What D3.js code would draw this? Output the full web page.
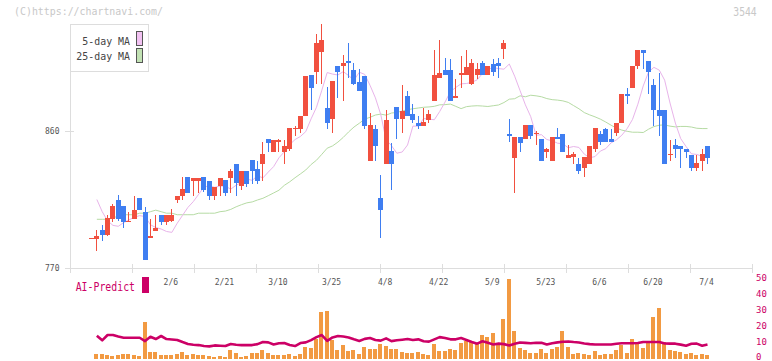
<!DOCTYPE html>
<html><head><meta charset="utf-8">
<script src="https://cdn.jsdelivr.net/npm/d3@7"></script>
<style>
body{margin:0;background:#fff;}
svg text{font-family:"DejaVu Sans Mono",monospace;}
</style></head>
<body><svg id="c" width="772" height="361"></svg>
<script>
// ---- data ----
const openP = [790,789,795,792,802,815,811,800,802,816, 807,790,794,805,800,801,815,817,830,827,
 827,830,827,817,824,828,829,838,824,834, 841,835,838,855,846,853,846,848,862,861,
 870,897,899,912,875,868,903,903,906,900, 892,896,840,861,816,838,847,876,868,883,
 871,865,863,867,880,895,900,900,882,897, 897,891,897,905,897,904,905,914,858,842,
 856,855,864,859,855,846,840,856,858,842, 843,838,836,838,848,858,861,855,859,865,
 884,888,903,913,906,890,874,874,845,851, 850,848,844,836,840,850];
const highP = [790,795,798,805,812,818,811,807,817,816, 810,802,805,805,805,809,817,830,830,829,
 829,830,827,823,829,828,835,838,834,834, 841,840,853,855,854,855,854,862,863,870,
 896,897,924,930,889,893,903,910,918,905, 901,896,872,864,831,874,852,876,890,886,
 878,870,875,874,913,920,908,907,894,909, 913,907,905,906,903,907,908,920,868,856,
 856,864,864,860,855,849,856,862,858,851, 846,842,843,850,862,860,862,861,865,884,
 888,903,913,913,906,894,898,874,854,855, 850,848,844,844,848,850];
const lowP = [790,781,788,791,800,801,796,800,802,808, 775,790,794,798,798,800,813,815,819,817,
 819,820,815,815,817,817,819,817,821,823, 825,825,827,846,846,846,838,847,857,859,
 870,874,891,891,861,859,882,880,895,890, 886,861,840,840,790,838,821,855,859,870,
 865,861,863,865,880,895,897,880,882,888, 897,890,894,897,897,896,895,907,853,819,
 846,855,855,851,840,842,840,855,846,842, 838,832,830,838,846,851,853,853,857,865,
 878,888,901,901,884,863,857,838,840,842, 836,842,834,834,834,838];
const closeP = [790,791,792,803,811,802,800,801,808,808, 775,791,796,800,805,805,817,822,819,829,
 829,821,817,823,829,819,834,826,834,825, 834,827,845,852,854,854,850,862,862,870,
 896,888,918,920,865,893,899,905,905,891, 886,863,864,850,808,867,838,868,873,870,
 867,863,866,871,897,898,897,880,883,898, 902,905,901,897,903,899,903,918,857,856,
 852,864,857,859,840,848,856,855,846,844, 845,834,843,850,862,853,853,853,865,884,
 883,903,913,911,899,874,870,838,845,848, 848,846,836,839,845,842];
const ma5 = [null,815,807,801,798,797.4,799.8,801.6,803.4,804.4,803.8,798.4,796.6,795.6,794.0,793.4,799.4,804.6,809.8,813.6,
 818.4,823.2,824.0,823.0,823.8,823.8,821.8,824.4,826.2,828.4,827.6,830.6,829.2,833.0,836.6,842.4,846.4,851.0,854.4,856.4,
 859.6,868.0,875.6,886.8,898.4,897.4,896.8,899.0,896.4,893.4,898.6,897.2,890.0,881.8,870.8,854.2,850.4,845.4,846.2,850.8,
 863.2,863.2,868.2,867.8,867.4,872.8,879.0,885.8,888.6,891.0,891.2,892.0,893.6,897.8,900.6,901.6,901.0,900.6,904.0,896.0,
 886.6,877.2,869.4,857.2,857.6,854.4,853.6,852.0,851.6,849.0,849.8,849.2,844.8,842.4,843.2,846.8,848.4,852.2,854.2,857.2,
 861.6,867.6,877.6,889.6,898.8,901.8,900.0,893.4,878.4,865.2,855.0,849.8,845.0,844.6,843.4,842.8];
const ma25 = [null,802,802,802,803,804,805,805,805,806,806,807,808,807,806,806,805,805,805,805,806,806,806,806,807,
 807.4,808.5,810.2,811.6,812.8,813.4,814.7,815.8,817.5,819.3,821.1,824.3,826.6,829.3,831.8,834.4,838.0,840.8,844.7,848.7,
 850.2,852.7,855.8,859.4,862.6,865.1,867.8,869.0,870.5,871.1,870.4,871.8,872.2,873.1,874.0,874.6,875.1,875.6,875.8,876.2,
 877.2,877.3,877.7,876.2,874.7,876.0,876.4,876.6,876.4,876.1,876.6,877.1,878.7,880.9,881.2,883.1,882.5,883.5,883.1,882.5,
 881.3,880.6,880.3,879.8,878.8,876.7,874.6,872.1,870.6,869.3,867.8,865.9,863.8,861.9,860.6,859.8,859.2,859.2,859.0,861.2,
 862.9,863.8,864.0,863.2,862.7,863.0,863.0,862.6,861.8,861.6,861.6];
const volume = [null,2.8,2.8,2.2,1.6,2.2,2.8,2.8,2.2,1.6, 22.8,4.1,4.1,2.2,2.2,2.2,2.8,4.1,2.2,2.8,
 2.2,2.2,1.6,1.0,1.6,1.0,5.3,3.4,1.0,1.6, 3.4,3.4,5.3,3.4,2.2,2.2,2.2,2.8,1.6,2.8,
 7.2,6.6,12.2,29.1,29.7,11.6,5.3,8.4,4.7,5.3, 2.8,7.2,5.9,5.9,9.1,7.8,5.9,5.9,4.1,3.4,
 3.4,4.1,2.8,2.2,9.1,4.7,4.7,5.9,5.3,9.7, 10.9,10.3,9.1,14.7,13.4,15.9,8.4,24.7,49.7,17.2,
 6.6,5.3,3.4,3.4,5.9,3.4,5.9,7.2,17.2,7.2, 2.8,3.4,2.8,2.2,4.7,2.2,2.8,2.8,5.3,8.4,
 3.4,12.2,10.3,6.6,9.7,25.9,31.6,10.3,5.3,4.7, 4.1,2.8,3.4,2.2,2.8,2.2];
const aiPredict = [null,14.3,11.4,14.7,14.7,13.8,13.0,13.0,13.0,13.0, 10.9,13.6,12.2,14.1,12.2,11.9,11.6,10.3,9.1,8.6,
 8.4,7.8,7.6,8.2,8.0,7.8,9.1,8.6,8.4,8.4, 8.4,9.0,10.3,10.1,8.8,9.6,9.7,8.5,7.8,9.7,
 10.1,11.5,13.4,14.7,11.0,13.2,14.1,13.8,13.2,12.0, 11.0,12.3,12.8,11.6,11.2,12.6,10.9,11.4,11.8,12.2,
 11.6,12.0,10.8,10.6,12.0,13.4,12.8,12.0,12.0,12.8, 11.6,10.4,9.3,10.8,9.8,8.8,9.3,9.0,8.2,9.3,
 10.0,9.8,9.6,9.9,9.8,8.8,9.6,10.1,10.5,10.7, 10.3,10.0,9.4,9.0,8.8,8.8,8.8,8.8,9.2,9.6,
 9.6,9.6,9.7,10.3,10.3,10.3,10.3,9.4,9.3,9.3, 8.7,8.0,9.2,9.3,8.0,8.8];
const tickIdx = [15,25,35,45,55,65,75,85,95,105,115];
const tickLabels = ['2/6','2/21','3/10','3/25','4/8','4/22','5/9','5/23','6/6','6/20','7/4'];
const priceTicks = [770, 860];
const volTicks = [0,10,20,30,40,50];
const legendItems = ['5-day MA','25-day MA'];

// ---- styles ----
const UP = '#f1503f', DOWN = '#3f7ef1', PINK = '#cc0066';
const MA5C = '#e8b4ea', MA25C = '#b6dba4', AXIS = '#dddddd', LBL = '#555';

const svg = d3.select('#c');
const n = closeP.length;
const x = d3.scaleLinear().domain([0, n - 1]).range([91.5, 707.5]);
const y = d3.scaleLinear().domain([770, 860]).range([268, 131]);
const yv = d3.scaleLinear().domain([0, 50]).range([358.5, 278.7]);
const grid = d3.scaleLinear().domain([0, 11]).range([70.5, 752.5]);

function txt(g, s, px, py, size, fill, width, anchor) {
  const t = g.append('text').attr('x', px).attr('y', py).attr('font-size', size + 'px')
    .attr('fill', fill).text(s);
  if (width) t.attr('textLength', width).attr('lengthAdjust', 'spacingAndGlyphs');
  if (anchor) t.attr('text-anchor', anchor);
  return t;
}

// header texts
txt(svg, '(C)https://chartnavi.com/', 14, 15, 11, '#c8c8c8', 149);
txt(svg, '3544', 733.3, 16, 12, '#c8c8c8', 23.4);

// axes
const ax = svg.append('g').attr('stroke', AXIS).attr('stroke-width', 1).attr('shape-rendering', 'crispEdges');
ax.append('line').attr('x1', 70.5).attr('x2', 70.5).attr('y1', 24).attr('y2', 268);
ax.append('line').attr('x1', 65).attr('x2', 752.5).attr('y1', 268.5).attr('y2', 268.5);
ax.selectAll('.pt').data(priceTicks).enter().append('line')
  .attr('x1', 65).attr('x2', 74).attr('y1', d => Math.round(y(d)) + 0.5).attr('y2', d => Math.round(y(d)) + 0.5);
ax.selectAll('.gt').data(d3.range(12)).enter().append('line')
  .attr('x1', d => grid(d)).attr('x2', d => grid(d)).attr('y1', 264).attr('y2', 273);

svg.selectAll('.pl').data(priceTicks).enter().append('text')
  .attr('x', 59.5).attr('y', d => y(d) + 3).attr('text-anchor', 'end')
  .attr('font-size', '8px').attr('fill', LBL).text(d => d);
svg.selectAll('.xl').data(tickIdx).enter().append('text')
  .attr('x', d => x(d) - 1).attr('y', 285).attr('text-anchor', 'middle')
  .attr('font-size', '8px').attr('fill', LBL).text((d, i) => tickLabels[i]);

// moving averages
const line = d3.line().defined(d => d != null).x((d, i) => x(i)).y(d => y(d));
svg.append('path').attr('d', line(ma25)).attr('fill', 'none').attr('stroke', MA25C).attr('stroke-width', 1);
svg.append('path').attr('d', line(ma5)).attr('fill', 'none').attr('stroke', MA5C).attr('stroke-width', 1);

// candles
const candles = d3.range(n).map(i => ({i, o: openP[i], h: highP[i], l: lowP[i], c: closeP[i]}));
const cg = svg.append('g').attr('shape-rendering', 'crispEdges');
cg.selectAll('.w').data(candles).enter().append('rect')
  .attr('x', d => Math.round(x(d.i) - 2.5) + 2).attr('width', 1)
  .attr('y', d => y(d.h)).attr('height', d => Math.max(0, y(d.l) - y(d.h)))
  .attr('fill', d => d.c >= d.o ? UP : DOWN);
cg.selectAll('.b').data(candles).enter().append('rect')
  .attr('x', d => Math.round(x(d.i) - 2.5)).attr('width', 5)
  .attr('y', d => y(Math.max(d.o, d.c)))
  .attr('height', d => Math.max(1, Math.abs(y(d.o) - y(d.c))))
  .attr('fill', d => d.c >= d.o ? UP : DOWN);

// legend
const lg = svg.append('g');
lg.append('rect').attr('x', 70.5).attr('y', 24.5).attr('width', 78).attr('height', 47)
  .attr('fill', '#fff').attr('stroke', AXIS);
lg.selectAll('.ls').data(legendItems).enter().append('rect')
  .attr('x', 136.5).attr('y', (d, i) => 31.5 + i * 17).attr('width', 6).attr('height', 14)
  .attr('fill', (d, i) => i ? '#c2e2b4' : '#f2c2f2').attr('stroke', '#555');
legendItems.forEach((s, i) => {
  txt(lg, s, 130, 44.7 + i * 15.6, 11, '#444', s.length * 5.96, 'end');
});

// volume bars
const vg = svg.append('g').attr('shape-rendering', 'crispEdges');
vg.selectAll('rect').data(volume.map((v, i) => ({v, i})).filter(d => d.v != null)).enter().append('rect')
  .attr('x', d => Math.round(x(d.i) - 2.5)).attr('width', 4)
  .attr('y', d => yv(d.v)).attr('height', d => yv(0) - yv(d.v))
  .attr('fill', '#f29a42');

// AI predict line
const aline = d3.line().defined(d => d != null).x((d, i) => x(i)).y(d => yv(d));
svg.append('path').attr('d', aline(aiPredict)).attr('fill', 'none').attr('stroke', PINK)
  .attr('stroke-width', 2.6).attr('stroke-linejoin', 'round');

// AI-Predict label
txt(svg, 'AI-Predict', 75.7, 290.7, 12, PINK, 59.3);
svg.append('rect').attr('x', 142).attr('y', 277).attr('width', 7).attr('height', 16).attr('fill', PINK);

// right axis labels
svg.selectAll('.vl').data(volTicks).enter().append('text')
  .attr('x', 756).attr('y', d => Math.min(yv(d) + 2.6, 359.6)).attr('font-size', '9px').attr('fill', PINK).text(d => d);
</script>
</body></html>
